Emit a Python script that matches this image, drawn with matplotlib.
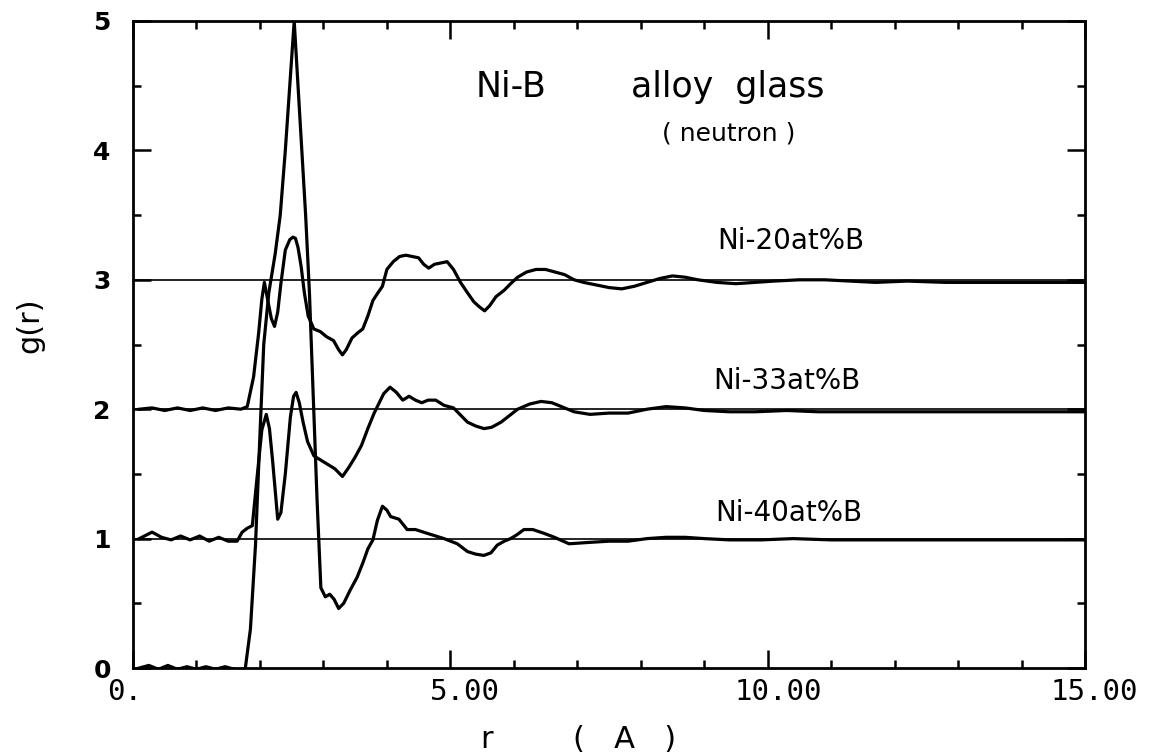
import matplotlib
matplotlib.use("Agg")
from matplotlib import pyplot as plt
from matplotlib.ticker import MultipleLocator, FixedLocator
import matplotlib.transforms as mtransforms

# Ni-20at%B, drawn with offset +2
r20 = [0.1, 0.3, 0.5, 0.7, 0.9, 1.1, 1.3, 1.5, 1.7, 1.8, 1.9, 1.98, 2.03, 2.07, 2.12, 2.18, 2.23, 2.28, 2.33,
       2.4, 2.47, 2.52, 2.56, 2.6, 2.65, 2.7, 2.76, 2.85, 2.95, 3.05, 3.16, 3.24, 3.3, 3.36, 3.45, 3.54, 3.62,
       3.7, 3.78, 3.86, 3.93, 4.0, 4.1, 4.2, 4.3, 4.4, 4.5, 4.58, 4.66, 4.75, 4.85, 4.95, 5.05, 5.16, 5.27,
       5.37, 5.46, 5.54, 5.62, 5.72, 5.85, 5.95, 6.06, 6.2, 6.35, 6.5, 6.65, 6.8, 6.95, 7.1, 7.3, 7.5, 7.7,
       7.9, 8.1, 8.3, 8.5, 8.7, 8.9, 9.2, 9.5, 9.8, 10.1, 10.5, 10.9, 11.3, 11.7, 12.2, 12.8, 13.4, 14.0,
       14.5, 15.0]
g20 = [2.0, 2.01, 1.99, 2.01, 1.99, 2.01, 1.99, 2.01, 2.0, 2.02, 2.25, 2.59, 2.85, 2.98, 2.85, 2.7, 2.64,
       2.75, 2.97, 3.23, 3.31, 3.33, 3.32, 3.25, 3.1, 2.9, 2.72, 2.62, 2.6, 2.56, 2.53, 2.46, 2.42, 2.46,
       2.55, 2.59, 2.62, 2.72, 2.84, 2.9, 2.95, 3.08, 3.14, 3.18, 3.19, 3.18, 3.17, 3.12, 3.09, 3.12, 3.13,
       3.14, 3.08, 2.98, 2.9, 2.83, 2.79, 2.76, 2.8, 2.87, 2.92, 2.97, 3.02, 3.06, 3.08, 3.08, 3.06, 3.04,
       3.0, 2.98, 2.96, 2.94, 2.93, 2.95, 2.98, 3.01, 3.03, 3.02, 3.0, 2.98, 2.97, 2.98, 2.99, 3.0, 3.0,
       2.99, 2.98, 2.99, 2.98, 2.98, 2.98, 2.98, 2.98]

# Ni-33at%B, offset +1
r33 = [0.1, 0.3, 0.45, 0.6, 0.75, 0.9, 1.05, 1.2, 1.35, 1.5, 1.64, 1.72, 1.8, 1.88, 1.95, 2.03, 2.1, 2.15,
       2.2, 2.28, 2.33, 2.4, 2.48, 2.53, 2.57, 2.62, 2.68, 2.75, 2.85, 2.98, 3.08, 3.18, 3.3, 3.4, 3.5, 3.6,
       3.7, 3.8, 3.88, 3.95, 4.05, 4.15, 4.25, 4.35, 4.45, 4.55, 4.65, 4.77, 4.9, 5.05, 5.17, 5.27, 5.4,
       5.53, 5.65, 5.8, 5.93, 6.06, 6.25, 6.43, 6.6, 6.75, 6.95, 7.2, 7.5, 7.8, 8.1, 8.4, 8.7, 9.0, 9.4,
       9.8, 10.3, 10.8, 11.4, 12.0, 12.8, 13.6, 14.3, 15.0]
g33 = [1.0, 1.05, 1.01, 0.99, 1.02, 0.99, 1.02, 0.98, 1.01, 0.98, 0.98, 1.05, 1.08, 1.1, 1.45, 1.84, 1.96,
       1.85, 1.6, 1.15, 1.2, 1.5, 1.94, 2.1, 2.13, 2.05, 1.9, 1.75, 1.64, 1.6, 1.57, 1.54, 1.48, 1.55, 1.63,
       1.72, 1.85, 1.97, 2.05, 2.12, 2.17, 2.13, 2.07, 2.1, 2.07, 2.05, 2.07, 2.07, 2.03, 2.01, 1.95, 1.9,
       1.87, 1.85, 1.86, 1.9, 1.95, 2.0, 2.04, 2.06, 2.05, 2.02, 1.98, 1.96, 1.97, 1.97, 2.0, 2.02, 2.01,
       1.99, 1.98, 1.98, 1.99, 1.98, 1.98, 1.98, 1.98, 1.98, 1.98, 1.98]

# Ni-40at%B, no offset
r40 = [0.1, 0.25, 0.4, 0.55, 0.7, 0.85, 1.0, 1.15, 1.3, 1.45, 1.6, 1.72, 1.77, 1.85, 1.93, 2.0, 2.06, 2.14,
       2.24, 2.32, 2.4, 2.47, 2.54, 2.6, 2.66, 2.72, 2.78, 2.84, 2.9, 2.96, 3.03, 3.1, 3.17, 3.24, 3.32,
       3.42, 3.53, 3.62, 3.7, 3.78, 3.85, 3.93, 4.0, 4.06, 4.19, 4.32, 4.45, 4.64, 4.9, 5.11, 5.27, 5.4,
       5.53, 5.64, 5.74, 5.85, 5.95, 6.05, 6.16, 6.3, 6.48, 6.64, 6.87, 7.17, 7.5, 7.8, 8.1, 8.4, 8.7, 9.0,
       9.4, 9.9, 10.4, 11.0, 11.6, 12.3, 13.0, 13.8, 14.4, 15.0]
g40 = [0.0, 0.02, -0.01, 0.02, -0.01, 0.01, -0.01, 0.01, -0.01, 0.01, -0.01, -0.02, 0.0, 0.3, 0.95, 1.8,
       2.5, 2.9, 3.2, 3.5, 4.0, 4.5, 5.0, 4.5, 4.0, 3.5, 2.9, 2.1, 1.3, 0.62, 0.55, 0.57, 0.53, 0.46, 0.5,
       0.6, 0.7, 0.81, 0.92, 0.99, 1.14, 1.25, 1.22, 1.17, 1.15, 1.07, 1.07, 1.04, 1.0, 0.96, 0.9, 0.88,
       0.87, 0.89, 0.95, 0.98, 1.0, 1.03, 1.07, 1.07, 1.04, 1.01, 0.96, 0.97, 0.98, 0.98, 1.0, 1.01, 1.01,
       1.0, 0.99, 0.99, 1.0, 0.99, 0.99, 0.99, 0.99, 0.99, 0.99, 0.99]

baselines = [1, 2, 3]
labels = ["Ni-20at%B", "Ni-33at%B", "Ni-40at%B"]
label_pos = [(791, 241), (787, 381), (789, 513)]   # pixel positions in the 1151x755 figure
xtick_vals = [0, 5, 10, 15]
xtick_text = ["0.", "5.00", "10.00", "15.00"]
xtick_shift = [-8, 15, 11, 9]   # px, labels are not centred on their ticks
ytick_vals = [0, 1, 2, 3, 4, 5]

W, H = 1151, 755
fig = plt.figure(figsize=(W / 100, H / 100), dpi=100)
ax = fig.add_axes([133 / W, 1 - 668 / H, (1085 - 133) / W, (668 - 21) / H])

for b in baselines:
    ax.axhline(b, color="black", lw=1.2)

for r, g in [(r20, g20), (r33, g33), (r40, g40)]:
    ax.plot(r, g, color="black", lw=2.3, solid_joinstyle="round")

ax.set_xlim(0, 15)
ax.set_ylim(0, 5)

ax.xaxis.set_major_locator(FixedLocator(xtick_vals))
ax.xaxis.set_minor_locator(MultipleLocator(1))
ax.yaxis.set_major_locator(FixedLocator(ytick_vals))
ax.yaxis.set_minor_locator(MultipleLocator(0.5))
ax.tick_params(which="both", direction="in", top=True, right=True, width=1.8, colors="black")
ax.tick_params(which="major", length=13)
ax.tick_params(which="minor", length=6)
ax.set_xticklabels(xtick_text, family="DejaVu Sans Mono", fontsize=21)
ax.set_yticklabels([str(v) for v in ytick_vals], fontsize=18, fontweight="bold")
ax.tick_params(axis="x", pad=7)
ax.tick_params(axis="y", pad=16)
for s in ax.spines.values():
    s.set_linewidth(2)

for t, dx in zip(ax.get_xticklabels(), xtick_shift):
    t.set_transform(t.get_transform() + mtransforms.ScaledTranslation(dx / 100, 0, fig.dpi_scale_trans))

def px(x, y):
    return x / W, 1 - y / H

fig.text(*px(511, 87), "Ni-B", fontsize=25, ha="center", va="center")
fig.text(*px(728, 87), "alloy  glass", fontsize=25, ha="center", va="center")
fig.text(*px(729, 134), "( neutron )", fontsize=18, ha="center", va="center")
for lab, (x, y) in zip(labels, label_pos):
    fig.text(*px(x, y), lab, fontsize=20, ha="center", va="center")

fig.text(*px(487, 740), "r", fontsize=22, ha="center", va="center")
fig.text(*px(625, 740), "(   A   )", fontsize=22, ha="center", va="center")
fig.text(*px(30, 325), "g(r)", fontsize=22, rotation=90, ha="center", va="center")

fig.savefig("out.png", dpi=100)
